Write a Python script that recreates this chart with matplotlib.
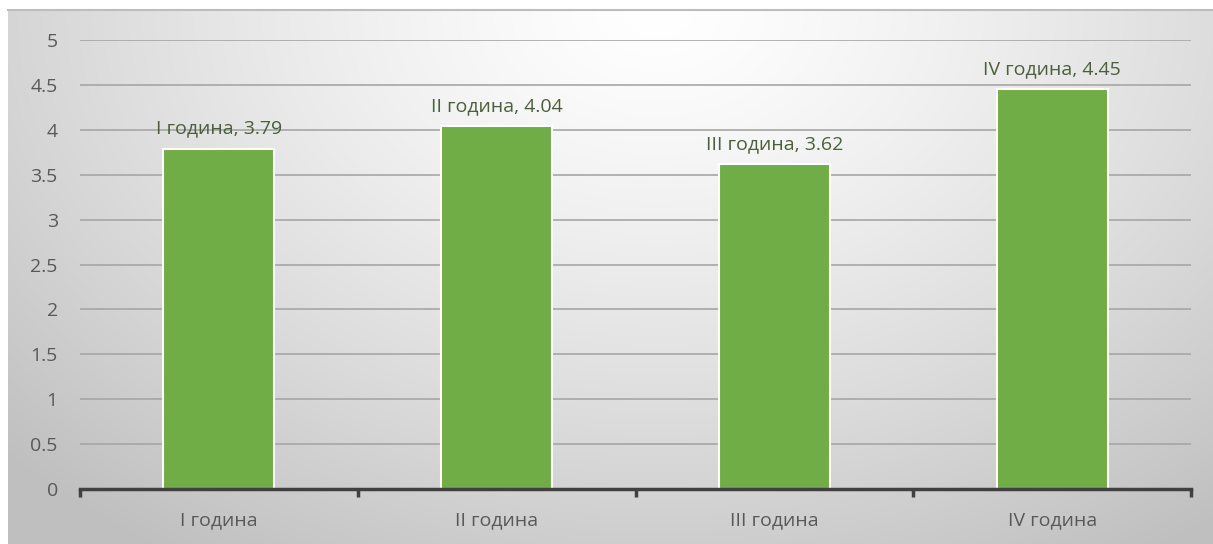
import numpy as np
import matplotlib
matplotlib.use("Agg")
import matplotlib.pyplot as plt

categories = ["I година", "II година", "III година", "IV година"]
values = [3.79, 4.04, 3.62, 4.45]
yticks = [0, 0.5, 1, 1.5, 2, 2.5, 3, 3.5, 4, 4.5, 5]

plt.rcParams['font.family'] = ['Open Sans', 'DejaVu Sans']

W, H = 1213, 544
fig = plt.figure(figsize=(W/100, H/100), dpi=100)
fig.patch.set_facecolor('white')

# background gradient panel
bg = fig.add_axes([8/W, 0, 1 - 8/W, (H-10)/H], zorder=0)
yy, xx = np.mgrid[0:534, 0:1205]
cx, cy = 650, 0
d = np.sqrt(((xx - cx)/900.0)**2 + ((yy - cy)/650.0)**2)
d = np.clip(d, 0, 1)
val = 1.0 - 0.25 * d**1.3
img = np.dstack([val, val, val])
bg.imshow(img, aspect='auto', extent=[0, 1, 0, 1], origin='upper')
bg.axis('off')
bg.plot([0, 1], [1, 1], color='#bdbdbd', lw=1.5, transform=bg.transAxes, clip_on=False)

ax = fig.add_axes([80/W, 55/H, (1191-80)/W, (489-40)/H], zorder=1)
ax.patch.set_alpha(0)
x = np.arange(len(categories))
bars = ax.bar(x, values, width=0.40, color='#70ad47', edgecolor='white', linewidth=1.5, zorder=3)
ax.set_xlim(-0.5, 3.5)
ax.set_ylim(0, 5)
ax.set_yticks(yticks)
ax.set_yticklabels([f"{t:g}" for t in yticks], fontsize=14, color='#595959')
ax.yaxis.grid(True, color='#a6a6a6', lw=1.2, zorder=0)
ax.set_axisbelow(True)
for s in ['top', 'right', 'left']:
    ax.spines[s].set_visible(False)
ax.spines['bottom'].set_color('#404040')
ax.spines['bottom'].set_linewidth(2.5)
ax.spines['bottom'].set_zorder(4)
ax.tick_params(axis='y', length=0, pad=16)
ax.set_xticks(x)
ax.set_xticklabels(categories, fontsize=14, color='#595959')
ax.tick_params(axis='x', length=0, pad=16)
ax.set_xticks(np.arange(-0.5, 4.0, 1.0), minor=True)
ax.tick_params(axis='x', which='minor', length=6, width=2.5, color='#404040')

for xi, v, c in zip(x, values, categories):
    ax.annotate(f"{c}, {v}", (xi, v), xytext=(0, 8), textcoords='offset points',
                ha='center', va='bottom', fontsize=14, color='#4a5f3a')

fig.savefig('out.png', dpi=100)
